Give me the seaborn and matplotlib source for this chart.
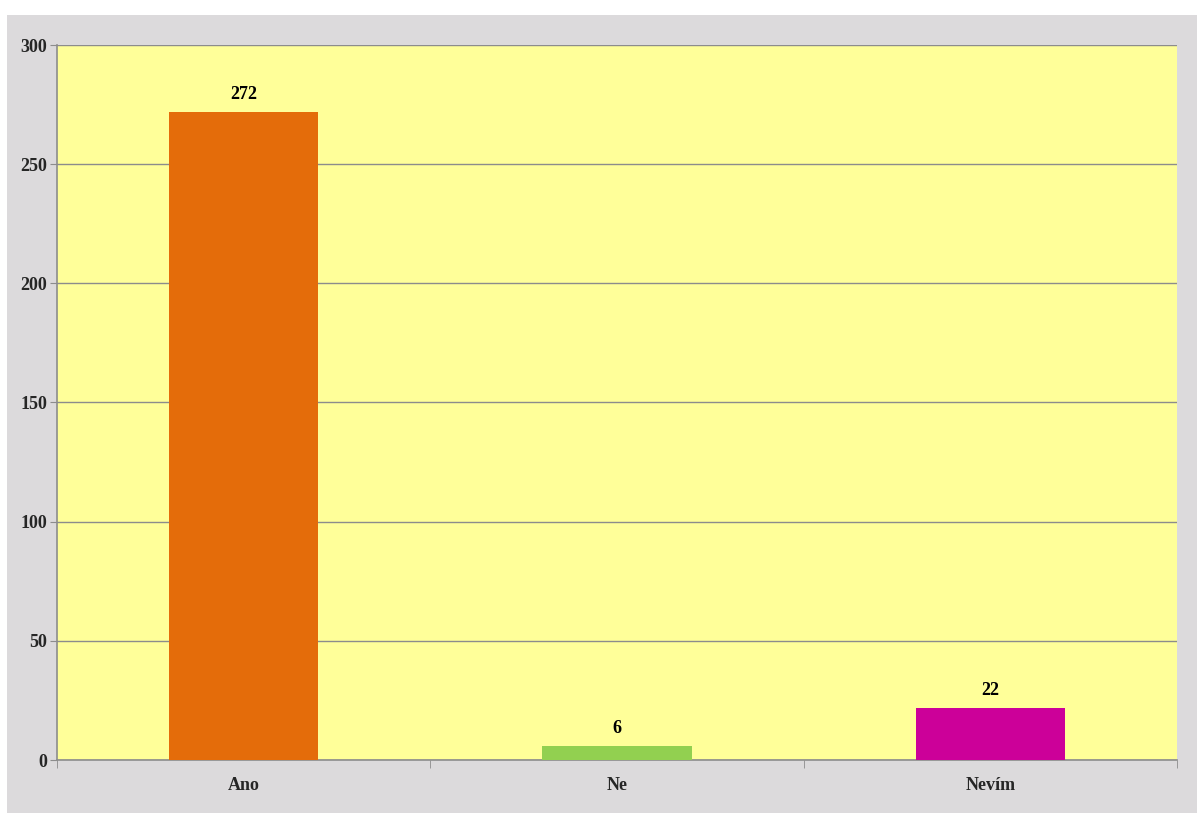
import matplotlib.pyplot as plt
import matplotlib.patches as mpatches
import pandas as pd
import seaborn as sns

# data
kategorie = ["Ano", "Ne", "Nevím"]
pocty = [272, 6, 22]
barvy = ["#E46C0A", "#92D050", "#CC0099"]

YELLOW = "#FFFF99"
GRAY = "#DCDADC"
GRID = "#8C8C8C"

sns.set_style("white")
plt.rcParams['font.family'] = ['Liberation Serif', 'DejaVu Serif']

df = pd.DataFrame({"kategorie": kategorie, "pocet": pocty})

fig = plt.figure(figsize=(12.04, 8.13), dpi=100, facecolor="white")
fig.patches.append(mpatches.Rectangle((7 / 1204, 0), 1190 / 1204, 798 / 813,
                                      transform=fig.transFigure, facecolor=GRAY,
                                      edgecolor="none", zorder=-1))

ax = fig.add_axes([57 / 1204, 53 / 813, 1120 / 1204, 715 / 813])
ax.set_zorder(2)
sns.barplot(data=df, x="kategorie", y="pocet", hue="kategorie",
            palette=barvy, saturation=1, width=0.4, legend=False, ax=ax,
            linewidth=0, zorder=3)
ax.set_facecolor(YELLOW)
ax.set_xlim(-0.5, 2.5)
ax.set_ylim(0, 300)
ax.set_yticks(range(0, 301, 50))
ax.yaxis.grid(True, color=GRID, linewidth=1)
ax.set_axisbelow(True)
ax.set_xlabel("")
ax.set_ylabel("")

for bar, val in zip(ax.patches, pocty):
    ax.text(bar.get_x() + bar.get_width() / 2, val + 3.5, str(val),
            ha="center", va="bottom", fontsize=13, fontweight="bold", color="black")

# category separators as ticks
ax.set_xticks([-0.5, 0.5, 1.5, 2.5], minor=True)
ax.tick_params(axis="both", bottom=True, left=True, which="both")
ax.tick_params(axis="x", which="major", length=0, labelsize=13, pad=12)
ax.tick_params(axis="x", which="minor", length=6, color=GRID, direction="out")
ax.tick_params(axis="y", length=5, color=GRID, direction="out", labelsize=13, pad=2)
for lbl in ax.get_xticklabels() + ax.get_yticklabels():
    lbl.set_fontweight("bold")

for s in ["top", "right"]:
    ax.spines[s].set_visible(False)
for s in ["left", "bottom"]:
    ax.spines[s].set_color(GRID)
    ax.spines[s].set_linewidth(1.2)

plt.savefig("out.png", dpi=100, facecolor="white")
